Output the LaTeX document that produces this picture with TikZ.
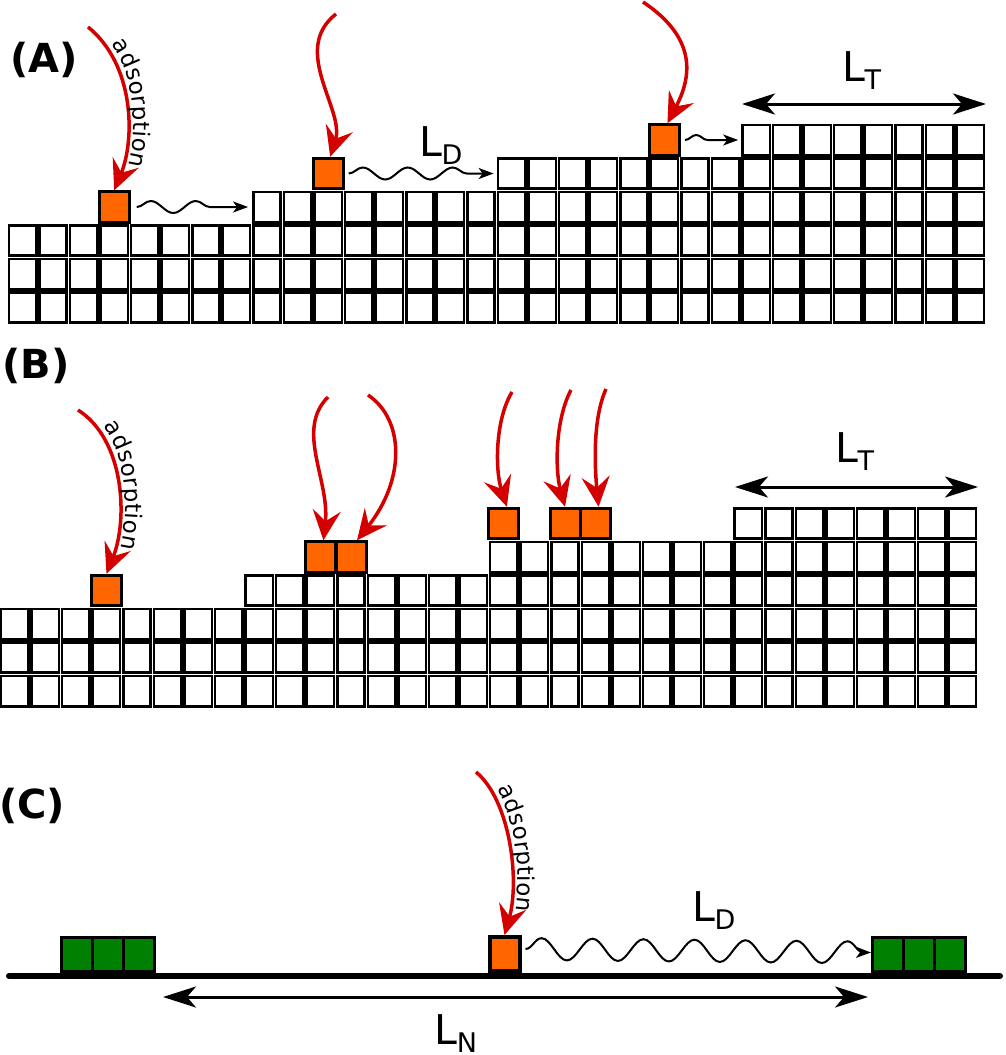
\documentclass[tikz,border=0pt]{standalone}
\usepackage{fontspec}
\setmainfont{DejaVu Sans}
\usepackage{tikz}
\usetikzlibrary{arrows.meta}
\usetikzlibrary{decorations.pathmorphing}
\usetikzlibrary{decorations.text}
\definecolor{adatom}{RGB}{255,102,0}
\definecolor{flux}{RGB}{212,0,0}
\definecolor{island}{RGB}{0,128,0}
\newcommand{\adsfont}{\fontsize{23}{23}\selectfont}
\newcommand{\Lsub}[1]{L\kern-1pt\raisebox{-8pt}{\fontsize{27}{27}\selectfont #1}}
\tikzset{
  cell_w/.style = {rectangle, draw=black, fill=white, line width=2.6pt,
    inner sep=0pt, minimum width=27.4pt, minimum height=30.4pt},% atome de surface
  cell_o/.style = {cell_w, fill=adatom, line width=3pt,
    minimum width=30pt, minimum height=30.5pt},% adatome
  cell_g/.style = {cell_w, fill=island, line width=3pt,
    minimum width=31pt, minimum height=34pt},% germe
  adsorb/.style = {draw=flux, line width=3.5pt,
    -{Stealth[length=30pt,width=28pt,inset=11pt]}},
  ads_txt/.style = {decorate, decoration={text along path,
    text={|\adsfont|adsorption}, text align=center, raise=6pt}},
  hop/.style = {line width=2pt, -{Stealth[length=15pt,width=11pt,inset=4pt]},
    decorate, decoration={snake, amplitude=6pt, segment length=45pt,
    post length=20pt}},% diffusion
  span/.style = {line width=3pt,
    {Stealth[length=33pt,width=21pt,inset=9pt]}-{Stealth[length=33pt,width=21pt,inset=9pt]}},
  substrate/.style = {line width=6pt, line cap=round},
  lbl_panel/.style = {font=\bfseries\fontsize{40}{40}\selectfont, inner sep=0pt},
  lbl_len/.style = {font=\fontsize{41}{41}\selectfont, inner sep=0pt}
}

\begin{document}
\begin{tikzpicture}[x=1pt, y=-1pt]
\useasboundingbox (0,0) rectangle (1005,1055);

% (A) step flow
\node[lbl_panel] (lbl_a) at (44,60) {(A)};
\begin{scope}[shift={(22.5,307.5)}, x=30.57pt, y=33.5pt]
  \foreach \c in {0,...,31} {
    \pgfmathtruncatemacro{\hmax}{2+floor(\c/8)}
    \foreach \r in {0,...,\hmax}
      \node[cell_w] (a-\c-\r) at (\c,\r) {};
  }
  \node[cell_o] (oa1) at (3,3) {};
  \node[cell_o] (oa2) at (10,4) {};
  \node[cell_o] (oa3) at (21,5) {};
\end{scope}
\coordinate (fa1) at (88,27);
\coordinate (fa2) at (336,14);
\coordinate (fa3) at (643,2);
\draw[adsorb] (fa1) .. controls (135,65) and (135,140) .. (oa1.north);
\path[ads_txt] (fa1) .. controls (135,65) and (135,140) .. (oa1.north);
\draw[adsorb] (fa2) .. controls (290,50) and (345,110) .. ([xshift=2pt]oa2.north);
\draw[adsorb] (fa3) .. controls (700,40) and (690,80) .. ([xshift=3pt]oa3.north);
\draw[hop] ([xshift=6pt]oa1.east) -- ([xshift=-4pt]a-8-3.west);
\draw[hop] ([xshift=4pt]oa2.east) -- ([xshift=-3pt]a-16-4.west);
\draw[hop, decoration={segment length=36pt, amplitude=5pt, post length=14pt}]
  ([xshift=4pt]oa3.east) -- ([xshift=-3pt]a-24-5.west);
\node[lbl_len] (ld_a) at (441,146) {\Lsub{D}};
\node[lbl_len] (lt_a) at (862,71) {\Lsub{T}};
\coordinate (lta_l) at (742,104);
\coordinate (lta_r) at (986,104);
\draw[span] (lta_l) -- (lta_r);

% (B) nucleation on terraces
\node[lbl_panel] (lbl_b) at (36,366) {(B)};
\begin{scope}[shift={(14.75,691)}, x=30.57pt, y=33.5pt]
  \foreach \c in {0,...,31} {
    \pgfmathtruncatemacro{\hmax}{2+floor(\c/8)}
    \foreach \r in {0,...,\hmax}
      \node[cell_w] (b-\c-\r) at (\c,\r) {};
  }
  \node[cell_o] (ob1) at (3,3) {};
  \node[cell_o] (ob2) at (10,4) {};
  \node[cell_o] (ob3) at (11,4) {};
  \node[cell_o] (ob4) at (16,5) {};
  \node[cell_o] (ob5) at (18,5) {};
  \node[cell_o] (ob6) at (19,5) {};
\end{scope}
\coordinate (fb1) at (78,410);
\coordinate (fb2) at (328,397);
\coordinate (fb3) at (368,395);
\coordinate (fb4) at (512,392);
\coordinate (fb5) at (571,390);
\coordinate (fb6) at (606,389);
\draw[adsorb] (fb1) .. controls (125,440) and (128,520) .. (ob1.north);
\path[ads_txt] (fb1) .. controls (125,440) and (128,520) .. (ob1.north);
\draw[adsorb] (fb2) .. controls (295,430) and (330,480) .. ([xshift=3pt]ob2.north);
\draw[adsorb] (fb3) .. controls (405,420) and (405,480) .. ([xshift=6pt]ob3.north);
\draw[adsorb] (fb4) .. controls (495,420) and (495,470) .. ([xshift=3pt]ob4.north);
\draw[adsorb] (fb5) .. controls (555,420) and (555,470) .. (ob5.north);
\draw[adsorb] (fb6) .. controls (592,420) and (595,470) .. ([xshift=3pt]ob6.north);
\node[lbl_len] (lt_b) at (855,452) {\Lsub{T}};
\coordinate (ltb_l) at (735,487);
\coordinate (ltb_r) at (978,487);
\draw[span] (ltb_l) -- (ltb_r);

% (C) one-dimensional picture
\node[lbl_panel] (lbl_c) at (32,806) {(C)};
\coordinate (sub_l) at (9,976);
\coordinate (sub_r) at (1000,976);
\draw[substrate] (sub_l) -- (sub_r);
\foreach \i/\x in {1/77, 2/108, 3/139}
  \node[cell_g] (gl\i) at (\x,954.5) {};
\foreach \i/\x in {1/888, 2/919, 3/950}
  \node[cell_g] (gr\i) at (\x,954.5) {};
\node[cell_o, line width=4pt, minimum height=34pt] (oc) at (504.5,954) {};
\coordinate (fc) at (476,772);
\draw[adsorb] (fc) .. controls (510,800) and (520,880) .. (oc.north);
\path[ads_txt] (fc) .. controls (510,800) and (520,880) .. (oc.north);
\draw[hop, decoration={amplitude=11pt, segment length=51pt, post length=6pt}]
  ([xshift=4pt,yshift=5pt]oc.east) -- ([yshift=2pt]gr1.west);
\node[lbl_len] (ld_c) at (714,911) {\Lsub{D}};
\coordinate (ln_l) at (163,997);
\coordinate (ln_r) at (868,997);
\draw[span] (ln_l) -- (ln_r);
\node[lbl_len] (ln_c) at (456,1034) {\Lsub{N}};
\end{tikzpicture}
\end{document}
